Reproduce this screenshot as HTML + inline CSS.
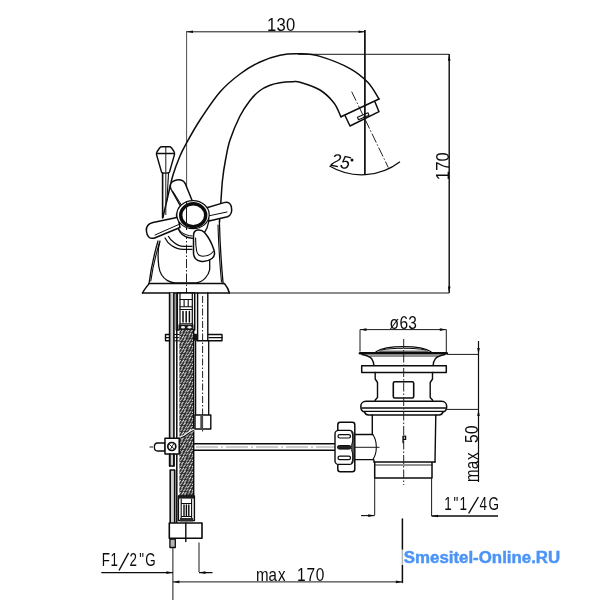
<!DOCTYPE html>
<html><head><meta charset="utf-8">
<style>
html,body{margin:0;padding:0;background:#fff;}
body{width:600px;height:600px;overflow:hidden;font-family:"Liberation Sans",sans-serif;}
svg{display:block;will-change:transform;}
.m{fill:none;stroke:#0c0c0c;stroke-width:1.5;stroke-linecap:round;stroke-linejoin:round;}
.t{fill:none;stroke:#1a1a1a;stroke-width:1;}
.w{fill:#fff;stroke:#0c0c0c;stroke-width:1.5;stroke-linejoin:round;}
.d{fill:none;stroke:#222;stroke-width:1;stroke-dasharray:7 2 1.5 2;}
text{font-family:"Liberation Sans",sans-serif;fill:#0c0c0c;}
</style></head><body>
<svg width="600" height="600" viewBox="0 0 600 600">
<defs>
<pattern id="braid" width="14" height="12" patternUnits="userSpaceOnUse" x="179" y="330">
<rect width="14" height="12" fill="#2e2e2e"/>
<path d="M-0.1 1.5l1.5 -1.6" stroke="#c8c8c8" stroke-width="1.1" stroke-linecap="round"/>
<path d="M2.7 1.8l1.5 -1.6" stroke="#dcdcdc" stroke-width="1.1" stroke-linecap="round"/>
<path d="M6.1 2.1l1.5 -1.6" stroke="#b0b0b0" stroke-width="1.1" stroke-linecap="round"/>
<path d="M8.6 1.7l1.5 -1.6" stroke="#c8c8c8" stroke-width="1.1" stroke-linecap="round"/>
<path d="M11.8 1.8l1.5 -1.6" stroke="#c8c8c8" stroke-width="1.1" stroke-linecap="round"/>
<path d="M1.8 4.5l1.5 -1.6" stroke="#b0b0b0" stroke-width="1.1" stroke-linecap="round"/>
<path d="M4.6 4.9l1.5 -1.6" stroke="#c8c8c8" stroke-width="1.1" stroke-linecap="round"/>
<path d="M7.6 4.7l1.5 -1.6" stroke="#b0b0b0" stroke-width="1.1" stroke-linecap="round"/>
<path d="M10.1 5.1l1.5 -1.6" stroke="#dcdcdc" stroke-width="1.1" stroke-linecap="round"/>
<path d="M13.4 4.8l1.5 -1.6" stroke="#dcdcdc" stroke-width="1.1" stroke-linecap="round"/>
<path d="M0.0 7.9l1.5 -1.6" stroke="#c8c8c8" stroke-width="1.1" stroke-linecap="round"/>
<path d="M3.1 7.9l1.5 -1.6" stroke="#dcdcdc" stroke-width="1.1" stroke-linecap="round"/>
<path d="M5.7 8.0l1.5 -1.6" stroke="#c8c8c8" stroke-width="1.1" stroke-linecap="round"/>
<path d="M9.1 7.8l1.5 -1.6" stroke="#a0a0a0" stroke-width="1.1" stroke-linecap="round"/>
<path d="M12.2 7.8l1.5 -1.6" stroke="#a0a0a0" stroke-width="1.1" stroke-linecap="round"/>
<path d="M1.4 10.6l1.5 -1.6" stroke="#b0b0b0" stroke-width="1.1" stroke-linecap="round"/>
<path d="M4.7 10.6l1.5 -1.6" stroke="#dcdcdc" stroke-width="1.1" stroke-linecap="round"/>
<path d="M7.5 11.1l1.5 -1.6" stroke="#a0a0a0" stroke-width="1.1" stroke-linecap="round"/>
<path d="M10.3 11.2l1.5 -1.6" stroke="#c8c8c8" stroke-width="1.1" stroke-linecap="round"/>
<path d="M13.5 10.5l1.5 -1.6" stroke="#dcdcdc" stroke-width="1.1" stroke-linecap="round"/>
</pattern>
</defs>

<!-- DIMENSIONS -->
<g id="dims">
<path class="t" d="M186.5 31.8H365"/>
<path d="M186.6 31V202" fill="none" stroke="#3a3a3a" stroke-width="0.9"/>
<path d="M364.9 30V174.5" stroke="#0c0c0c" stroke-width="1.7" fill="none"/>
<path class="t" d="M298 54.3H449.2"/>
<path d="M449.2 54V293" stroke="#0c0c0c" stroke-width="1.4" fill="none"/>
<path class="t" d="M229.4 293H449.2"/>
<path d="M186.5 31.8l6.5-1.3v2.6zM365 31.8l-6.5-1.3v2.6zM449.2 54.3l-1.3 6.5h2.6zM449.2 293l-1.3-6.5h2.6z" fill="#0c0c0c"/>
<text transform="translate(266.90 30.80) scale(0.9 1)" x="0.00 10.56 21.11" font-size="18.5" >130</text>
<text transform="translate(449 180.3) rotate(-90) scale(0.9 1)" x="0 10.5 21" font-size="18.5">170</text>
<!-- 25deg -->
<path class="d" d="M351.7 91.7L388.3 167.5" style="stroke-dasharray:10 2 1.5 2"/>
<path d="M329.5 166A63 63 0 0 0 400 161.7" fill="none" stroke="#0c0c0c" stroke-width="1.2"/>
<text transform="translate(329.3 165.6) rotate(12) scale(0.92 1) skewX(-10)" x="0 10.4" font-size="18.5">25</text>
<circle cx="352" cy="160" r="1.5" fill="#0c0c0c"/>
</g>

<!-- SPOUT -->
<g id="spout">
<path class="m" d="M163.0 217.0C163.7 214.2 165.3 207.0 167.0 200.0C168.7 193.0 170.8 182.3 173.0 175.0C175.2 167.7 177.8 161.2 180.0 156.0C182.2 150.8 182.7 150.0 186.0 144.0C189.3 138.0 194.3 128.7 200.0 120.0C205.7 111.3 213.3 99.7 220.0 92.0C226.7 84.3 233.3 79.0 240.0 74.0C246.7 69.0 253.3 65.1 260.0 62.0C266.7 58.9 273.3 56.6 280.0 55.2C286.7 53.8 293.3 53.6 300.0 53.8C306.7 54.0 311.7 53.9 320.0 56.4C328.3 58.9 342.0 64.2 350.0 68.6C358.0 73.0 363.2 77.5 368.0 82.6C372.8 87.7 377.2 96.3 379.0 99.0"/>
<path class="m" d="M219.5 222.0C219.8 218.3 220.5 207.0 221.0 200.0C221.5 193.0 221.8 186.7 222.5 180.0C223.2 173.3 224.2 166.7 225.5 160.0C226.8 153.3 227.6 147.3 230.0 140.0C232.4 132.7 236.7 122.6 240.0 116.0C243.3 109.4 246.7 104.8 250.0 100.5C253.3 96.2 256.7 93.0 260.0 90.5C263.3 88.0 266.7 86.6 270.0 85.3C273.3 84.0 276.3 83.4 280.0 82.8C283.7 82.2 288.7 81.9 292.0 81.8C295.3 81.7 295.3 80.8 300.0 82.2C304.7 83.6 314.3 86.5 320.0 90.0C325.7 93.5 330.5 98.5 334.0 103.0C337.5 107.5 339.8 114.7 341.0 117.0"/>
<path class="m" d="M341 116.7L379 99"/>
<path class="m" d="M345 115.5L350 126L379 111.7L375 102"/>
<path class="m" d="M357.5 117.3L368 112.7L369 115.2L358.5 119.8Z" style="stroke-width:1.1"/>
</g>

<!-- BODY -->
<g id="body">
<path class="m" d="M142.5 293H229.4"/>
<path class="m" d="M142.5 293C144.5 289 147 286.5 149 283.6H224.4C226.5 286 228.3 289 229.4 293"/>
<path class="m" d="M158 241C154.5 253 151 268 149 283.6" style="stroke-width:1.3"/>
<path class="m" d="M159.4 243C156 254 152.6 268 150.8 281" style="stroke-width:1.1"/>
<path class="m" d="M219.4 222C220 245 221.5 266 223.1 283.6" style="stroke-width:1.3"/>
<path class="m" d="M218 225C218.6 246 220 266 221.5 282" style="stroke-width:1.1"/>
<path class="m" d="M160 241C158 247 157.6 256 158.7 266C159.5 272 163 278 167.5 280.6C170 282 172.5 282.8 175 282.8H196C203 282.3 208.5 276 209.7 269.5V259" style="stroke-width:1.3"/>
<path class="d" d="M186.5 230V300" style="stroke-dasharray:9 2 1.5 2"/>
</g>

<!-- KNOB + ROD -->
<g id="knob">
<path class="w" d="M161.5 172L156.5 154.5C156.3 153 156.5 152.5 157.2 151.5L159.6 148C160.3 147.1 160.9 146.8 161.8 146.8H169.4C170.3 146.8 170.9 147.1 171.6 148L174 151.5C174.6 152.5 174.7 153 174.5 154.5L169.5 172C169 173.5 162 173.5 161.5 172Z" style="stroke-width:1.4"/>
<path class="m" d="M156.8 153.5H174.2" style="stroke-width:1.4"/>
<path class="t" d="M165.8 147V215"/>
<path class="m" d="M162.6 173.5V218" style="stroke-width:1.6"/>
<path class="m" d="M168.5 173.5L167 200" style="stroke-width:1.1"/>
</g>

<!-- HANDLE -->
<g id="handle">
<path class="m" d="M165 238C167 242 169 244 171.5 245.5C175 248 180 249.3 183.5 249.3H192" style="stroke-width:1.2"/>
<path class="m" d="M168.5 236.5C170 239.5 172 241 174 242.5C177 245 181 246.3 183.5 246.3H192" style="stroke-width:1.2"/>
<path class="w" d="M176.5 214C176 222 177 228 180 232C183 236 188 238.2 193 238.3C200 238 205 233 207 228C209 223 209.5 218 209.3 214Z" style="stroke-width:1.3"/>
<path class="m" d="M178 228C180 232 185 235.5 192 236" style="stroke-width:1"/>
<path class="w" d="M181 207L171.2 189.5C169.2 185 170.7 182 174.2 180.8C178.2 179.3 182.7 179.5 185.2 183.5L192.5 201.5Z"/>
<path class="m" d="M173 191.5L182 206" style="stroke-width:1"/>
<path class="w" d="M206 208L224 202.6C228 201.5 230.5 203 231.3 206.5C232.2 210.5 231.5 215 227.5 216.8L209 221Z"/>
<path class="m" d="M209 215.8L227 212" style="stroke-width:1"/>
<path class="w" d="M178 217.3L153 222.5C148.5 223.5 146 226.5 146.4 231C146.9 236.5 149.5 239 154 238.2L180 227.5Z"/>
<path class="m" d="M155 235L178.5 224.6" style="stroke-width:1"/>
<path class="w" d="M197.5 230C195 230.5 193.5 232.5 193.5 235.5V253C193.7 258 196 260.5 200.5 261.2C204 261.7 209 260.8 212 258.5C214.5 256.5 215 253 213.8 249.5C212 244 208.5 237 204.5 232.5C202.5 230.3 200 229.6 197.5 230Z"/>
<path class="m" d="M195.6 238C195.6 243 196 248 196.6 251C197.3 254.5 199.5 256.2 203 256.2C207 256.2 211 254.5 213.3 251.5" style="stroke-width:1.1"/>
<ellipse class="w" cx="193" cy="214.7" rx="16.2" ry="14" style="stroke-width:1.2"/>
<ellipse cx="193.2" cy="215.2" rx="12.5" ry="11.4" fill="#fff" stroke="#0c0c0c" stroke-width="3.4"/>
<path class="t" d="M186.5 202V230"/>
</g>

<!-- UNDER BODY -->
<g id="under">
<!-- left rod -->
<rect x="169.6" y="293" width="4.2" height="173" fill="#cfcfcf"/>
<path d="M169.6 293V466M173.9 293V466M169.6 466H173.9" class="m" style="stroke-width:1.6"/>
<rect x="170.2" y="470" width="4.4" height="53" fill="#cfcfcf"/>
<path d="M170.2 523V470H174.7V523" class="m" style="stroke-width:1.6"/>
<!-- hose sleeve lines -->
<path d="M176.2 293V330" class="m" style="stroke-width:1.2"/>
<!-- hose nut top -->
<rect x="177.3" y="293" width="17.4" height="37" class="w" style="stroke-width:1.5"/>
<path class="m" style="stroke-width:1.2" d="M180 293V325M192.3 293V325"/>
<path class="m" style="stroke-width:1.1" d="M180 299.5H192.3M180 306.8H192.3M184.1 300V306.5M188.2 300V306.5M180 309.5H192.3M180 323.8H192.3"/>
<path class="m" style="stroke-width:1.5" d="M183 311.5V322M186.2 311.5V322M189.4 311.5V322"/>
<rect x="178.5" y="324.5" width="15" height="5.5" fill="#1a1a1a"/>
<ellipse cx="183" cy="327.2" rx="2" ry="1.2" fill="#eee"/><ellipse cx="189.5" cy="327.2" rx="2" ry="1.2" fill="#eee"/>
<!-- braided hose -->
<rect x="179.4" y="330" width="13.6" height="166.5" fill="url(#braid)"/>
<path class="m" d="M176.8 330V523" style="stroke-width:1.5"/><path class="m" d="M193.7 330V496" style="stroke-width:1.4"/>
<path d="M179 437.8C185 437.3 188 432 193.5 430" class="m" style="stroke:#f4f4f4;stroke-width:2.6"/>
<path d="M179 438.4C185 437.9 188 432.6 193.5 430.6" class="m" style="stroke-width:1.1"/>
<!-- hose ferrule bottom -->
<rect x="178.4" y="496" width="16" height="24.5" class="w" style="stroke-width:1.4"/>
<rect x="178.4" y="495.6" width="16" height="3" fill="#1a1a1a"/>
<path class="m" style="stroke-width:1.1" d="M181.2 499V518M191.6 499V518M181.2 503.5H191.6M181.2 516.5H191.6"/>
<path class="m" style="stroke-width:1.4" d="M184 505V515.5M186.4 505V515.5M188.8 505V515.5"/>
<rect x="180" y="518" width="13" height="3.4" fill="#2a2a2a"/>
<!-- right tube -->
<path class="m" style="stroke-width:1.4" d="M197.6 293V340.6M207.8 293V340.6"/>
<path class="m" style="stroke-width:1.3" d="M195.6 341V415M208.7 341V415"/>
<path class="d" d="M202.6 296V433" style="stroke-dasharray:7 2 1.5 2"/>
<rect x="195" y="415" width="15.8" height="14" class="w" style="stroke-width:1.4"/>
<rect x="200.3" y="416" width="2.8" height="12" fill="#4a4a4a"/>
<!-- washer bracket -->
<path class="m" d="M165.5 334.5H169.5M165.5 340.8H169.5M165.5 334.5V340.8M208.3 334.5H222V340.8H197" style="stroke-width:1.4"/>
<path class="m" d="M165.5 337.6H169.5M209 337.6H222" style="stroke-width:1.2"/>
<rect x="193.5" y="333.8" width="4.6" height="7" fill="#151515"/>
<path class="m" d="M174.6 334.5H179M174.6 337.6H179M174.6 340.8H179" style="stroke-width:1"/>
<!-- clamp -->
<path class="w" d="M165 443H157.5C153.3 443 153.3 451 157.5 451H165Z" style="stroke-width:1.3"/>
<path class="t" d="M149.5 447H153"/>
<rect x="165" y="438.3" width="14.2" height="15.7" class="w" style="stroke-width:1.5"/>
<circle cx="171.8" cy="446.5" r="4" class="w" style="stroke-width:1.7"/>
<path class="m" d="M169.4 444.5L174 448.8M173.6 444L170.6 449" style="stroke-width:0.9"/>
<path class="m" d="M169.8 454V466M174 454V466" style="stroke-width:1.5"/>
<!-- horiz rod -->
<path class="m" d="M194 443.8H337M194 450.3H337" style="stroke-width:1.4"/>
<path class="t" d="M196 447H337" style="stroke:#9a9a9a;stroke-dasharray:22 3 2 3"/>
<!-- bottom nut -->
<rect x="169.3" y="523" width="32.7" height="15.3" class="w" style="stroke-width:1.6"/>
<path class="m" d="M185.8 523V541.5" style="stroke-width:1.4"/>
<rect x="169.9" y="539" width="5.4" height="8.5" class="w" style="stroke-width:1.3;fill:#b5b5b5"/>
<path class="t" d="M172.9 547.5V600M199 542.5V572"/>
</g>

<!-- BOTTOM DIMS -->
<g id="bdims">
<path d="M101.3 572.6H172.9M199 572.6H212.5" stroke="#0c0c0c" stroke-width="1.3" fill="none"/>
<path d="M172.9 572.6l-6.5-1.3v2.6zM199 572.6l6.5-1.3v2.6z" fill="#0c0c0c"/>
<text transform="translate(101.80 566.00) scale(0.76 1)" x="0.00 11.58 36.32 49.21 57.11" font-size="17.6" >F12&quot;G</text>
<path d="M119 570.5L128.6 552.8" stroke="#0c0c0c" stroke-width="1.4" fill="none"/>
<path class="t" d="M172.9 581.9H402.4"/>
<path d="M172.9 581.9l6.5-1.3v2.6zM402.4 581.9l-6.5-1.3v2.6z" fill="#0c0c0c"/>
<text transform="translate(256.00 581.20) scale(0.84 1)" x="0.00 15.00 26.19" font-size="18" >max</text><text transform="translate(297.00 581.20) scale(0.86 1)" x="0.00 11.16 21.86" font-size="18" >170</text>
<path d="M402.4 519V582.5" class="m" style="stroke-width:1.5"/>
</g>

<!-- DRAIN -->
<g id="drain">
<text transform="translate(389.40 328.60) scale(0.86 1)" x="0.00 11.63 21.86" font-size="18" >ø63</text>
<path class="t" d="M360 329.6H446.3M360 329.6V351.5M446.3 329.6V352"/>
<path d="M360 329.6l6.5-1.3v2.6zM446.3 329.6l-6.5-1.3v2.6z" fill="#0c0c0c"/>
<!-- cap -->
<path class="m" d="M376 351.8C381 348.4 391 346.7 403.5 346.7C416 346.7 426 348.4 431 351.8" style="stroke-width:1.3"/>
<path class="m" d="M381 350C388 348.6 396 348.3 403.5 348.3C411 348.3 419 348.6 426 350" style="stroke-width:1"/>
<path class="m" d="M379 351.2H428" style="stroke-width:0.9"/>
<path d="M360 353.2H446.7" stroke="#0c0c0c" stroke-width="2.6" stroke-linecap="round" fill="none"/>
<path class="m" d="M370 356H437.5" style="stroke-width:0.9"/>
<path class="m" d="M362 354.5C367 355.5 370 356.5 371.5 358.5C373.3 361 374 363.5 374 366" style="stroke-width:1.3"/>
<path class="m" d="M445 354.5C440 355.5 437 356.5 435.5 358.5C433.7 361 433 363.5 433 366" style="stroke-width:1.3"/>
<rect x="361.7" y="365.8" width="84.6" height="6.7" class="w"/>
<!-- body mid -->
<path class="m" d="M375.2 372.5V379L377.5 382.5V397.5L375.2 400V401.3" style="stroke-width:1.4"/>
<path class="m" d="M432.5 372.5V379L430.2 382.5V397.5L432.5 400V401.3" style="stroke-width:1.4"/>
<rect x="393.3" y="381.7" width="20.4" height="16.3" rx="1.5" class="w" style="stroke-width:1.6"/>
<!-- lower ring -->
<path class="w" d="M366 401.3H441.5C445 401.3 446.7 404 446.7 406.5C446.7 409.5 445 411.5 443 412C442.5 413.5 441 415 439 415H368.5C366.5 415 365 413.5 364.5 412C362.5 411.5 360.8 409.5 360.8 406.5C360.8 404 362.5 401.3 366 401.3Z"/>
<path class="m" d="M362 408H445.5M364 411.3H443.5" style="stroke-width:1.3"/>
<!-- lower body -->
<path class="m" d="M372.3 415V434.5M373.8 459.6L374.2 462M435.8 415L435 462" style="stroke-width:1.4"/>
<path class="m" d="M374 462H435M374.7 462V478H432V462" style="stroke-width:1.5"/>
<path class="m" d="M374.7 465H432" style="stroke-width:0.9"/>
<!-- side outlet -->
<path class="m" d="M354.7 434.5H372.8M354.7 459.6H372.8" style="stroke-width:1.4"/>
<path class="m" d="M372.8 434.5C377.5 441 377.5 453 372.8 459.6" style="stroke-width:1.1"/>
<path class="t" d="M354 447.3H379.5"/>
<!-- nut -->
<rect x="337.8" y="422.2" width="17" height="49.6" rx="2.5" class="w" style="stroke-width:1.5"/>
<rect x="335" y="430.4" width="18" height="34" rx="3.5" class="w" style="stroke-width:1.4"/>
<rect x="338" y="434.6" width="12.5" height="3.4" rx="1.7" class="w" style="stroke-width:1.2"/>
<rect x="338" y="456.2" width="12.5" height="3.4" rx="1.7" class="w" style="stroke-width:1.2"/>
<rect x="337.5" y="445.5" width="13.5" height="3.6" rx="1.8" fill="#222" stroke="#0c0c0c" stroke-width="1"/>
<path class="m" d="M351.5 431.5C353.5 436 353.5 440 352 443.5C351 446 351 449 352 451.5C353.5 455 353.5 459 351.5 463.5" style="stroke-width:1"/>
<path class="d" d="M403.7 339V485" style="stroke-dasharray:9 2 1.5 2"/>
<!-- P -->
<path d="M403 442.5V436.2H405.6V439.4H403" class="m" style="stroke-width:1.3"/>
<!-- ext lines + 1"1/4G -->
<path class="t" d="M374.7 478V515M431.6 478V516"/>
<path d="M361 515.6H374.7" stroke="#0c0c0c" stroke-width="1.1" fill="none"/>
<path d="M431.6 516H498" stroke="#0c0c0c" stroke-width="1.6" fill="none"/>
<path d="M374.7 515.6l-6.5-1.3v2.6zM431.6 516l6.5-1.3v2.6z" fill="#0c0c0c"/>
<text transform="translate(444.20 509.80) scale(0.76 1)" x="0.00 12.11 20.13 46.58 58.42" font-size="17.8" >1&quot;14G</text>
<path d="M468.6 513.5L478.4 497" stroke="#0c0c0c" stroke-width="1.4" fill="none"/>
<!-- max 50 -->
<path class="t" d="M447 354.4H478.5M447 409.4H478.5"/>
<path d="M478.5 341V482" stroke="#0c0c0c" stroke-width="1.2" fill="none"/>
<path d="M478.5 354.4l-1.3-6.5h2.6zM478.5 409.4l-1.3 6.5h2.6z" fill="#0c0c0c"/>
<text transform="translate(477.8 482) rotate(-90) scale(0.84 1)" x="0 15.3 26.2" font-size="18">max</text><text transform="translate(477.8 443) rotate(-90) scale(0.86 1)" x="0 10.6" font-size="18">50</text>
</g>

<!-- WATERMARK -->
<rect x="399" y="549.5" width="164" height="15.5" fill="#fff" opacity="0.7"/>
<text x="403.8" y="562.6" font-size="15.6" font-weight="bold" textLength="156.4" lengthAdjust="spacingAndGlyphs" style="fill:#4c94f6;stroke:#4c94f6;stroke-width:0.45">Smesitel-Online.RU</text>
</svg>
</body></html>
